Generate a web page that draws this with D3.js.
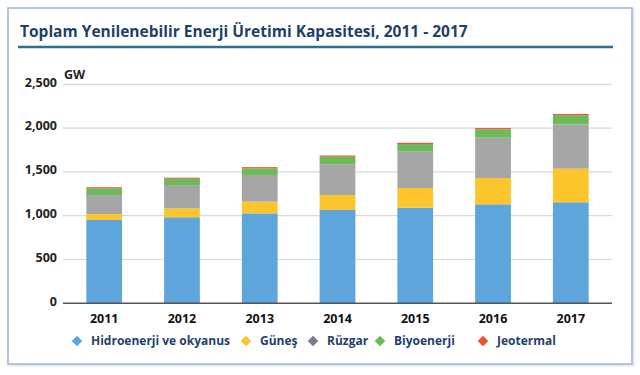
<!DOCTYPE html>
<html>
<head>
<meta charset="utf-8">
<script src="https://cdn.jsdelivr.net/npm/d3@7"></script>
<style>
  body { margin: 0; background: #fff; }
  svg { display: block; }
</style>
</head>
<body>
<div id="chart"></div>
<script>
// chart data (GW)
const years = ["2011", "2012", "2013", "2014", "2015", "2016", "2017"];
const hydro = [951, 982, 1027, 1065, 1091, 1130, 1153];
const solar = [68, 102, 133, 171, 225, 300, 384];
const wind = [217, 266, 305, 351, 415, 461, 506];
const bio = [77, 72, 76, 87, 87, 95, 103];
const geo = [12, 12, 13, 13, 14, 14, 15];
const seriesNames = ["Hidroenerji ve okyanus", "Güneş", "Rüzgar", "Biyoenerji", "Jeotermal"];
const yTicks = [0, 500, 1000, 1500, 2000, 2500];
const yTickLabels = ["0", "500", "1,000", "1,500", "2,000", "2,500"];

const barColors = ["#5da5da", "#fdc52c", "#a6a6a6", "#6cbb5a", "#e8542c"];
const legendColors = ["#5da5da", "#fdc52c", "#7b7b8c", "#6cbb5a", "#f0502a"];

const width = 640, height = 375;
const svg = d3.select("#chart").append("svg")
    .attr("width", width)
    .attr("height", height);

// frame with a faint shadow
svg.append("rect")
    .attr("x", 9.5).attr("y", 9.5)
    .attr("width", 624).attr("height", 356)
    .attr("fill", "none")
    .attr("stroke", "#e3e8f1")
    .attr("stroke-width", 2);
svg.append("rect")
    .attr("x", 8).attr("y", 8)
    .attr("width", 624).attr("height", 356)
    .attr("fill", "#fff")
    .attr("stroke", "#9fb1d4")
    .attr("stroke-width", 1.5);

// title
svg.append("text")
    .attr("x", 20).attr("y", 37)
    .attr("font-family", "'Open Sans', sans-serif")
    .attr("font-weight", "bold")
    .attr("font-size", 15.5)
    .attr("fill", "#1f3f6b")
    .text("Toplam Yenilenebilir Enerji Üretimi Kapasitesi, 2011 - 2017");

svg.append("line")
    .attr("x1", 18).attr("x2", 613)
    .attr("y1", 47).attr("y2", 47)
    .attr("stroke", "#2f6e8c")
    .attr("stroke-width", 2.5);

// scales
const x = d3.scaleBand().domain(years).range([63, 612])
    .paddingInner(0.54).paddingOuter(0.3);
const y = d3.scaleLinear().domain([0, 2500]).range([303.3, 84.3]);

const g = svg.append("g");

// grid
g.selectAll(".grid").data(yTicks.slice(1)).join("line")
    .attr("class", "grid")
    .attr("x1", 63).attr("x2", 612)
    .attr("y1", d => y(d)).attr("y2", d => y(d))
    .attr("stroke", "#d9d9d9")
    .attr("stroke-width", 1.2);

// y tick labels
g.selectAll(".ylab").data(yTicks).join("text")
    .attr("class", "ylab")
    .attr("x", 57)
    .attr("y", d => y(d) - 2)
    .attr("dy", "0.35em")
    .attr("text-anchor", "end")
    .attr("font-family", "'Open Sans', sans-serif")
    .attr("font-weight", "bold")
    .attr("font-size", 12.5)
    .attr("fill", "#222")
    .text((d, i) => yTickLabels[i]);

svg.append("text")
    .attr("x", 64).attr("y", 79)
    .attr("font-family", "'Open Sans', sans-serif")
    .attr("font-weight", "bold")
    .attr("font-size", 12.5)
    .attr("fill", "#222")
    .text("GW");

// stacked bars
const rows = years.map((yr, i) => ({
    year: yr, s0: hydro[i], s1: solar[i], s2: wind[i], s3: bio[i], s4: geo[i]
}));
const stack = d3.stack().keys(["s0", "s1", "s2", "s3", "s4"])(rows);

g.selectAll(".layer").data(stack).join("g")
    .attr("class", "layer")
    .attr("fill", (d, i) => barColors[i])
    .selectAll("rect").data(d => d).join("rect")
    .attr("x", d => x(d.data.year))
    .attr("width", x.bandwidth())
    .attr("y", d => y(d[1]))
    .attr("height", d => y(d[0]) - y(d[1]));

// x axis line
g.append("line")
    .attr("x1", 63).attr("x2", 612)
    .attr("y1", y(0)).attr("y2", y(0))
    .attr("stroke", "#555")
    .attr("stroke-width", 1.5);

// x labels
g.selectAll(".xlab").data(years).join("text")
    .attr("class", "xlab")
    .attr("x", d => x(d) + x.bandwidth() / 2)
    .attr("y", 323)
    .attr("text-anchor", "middle")
    .attr("font-family", "'Open Sans', sans-serif")
    .attr("font-weight", "bold")
    .attr("font-size", 12.5)
    .attr("fill", "#111")
    .text(d => d);

// legend
const legendX = [77, 246, 313, 380, 483];
const legend = svg.append("g");
const items = legend.selectAll("g").data(seriesNames).join("g")
    .attr("transform", (d, i) => "translate(" + legendX[i] + ",341)");

items.append("path")
    .attr("d", d3.symbol().type(d3.symbolSquare).size(56))
    .attr("transform", "rotate(45)")
    .attr("fill", (d, i) => legendColors[i]);

items.append("text")
    .attr("x", 14)
    .attr("dy", "0.35em")
    .attr("font-family", "'Open Sans', sans-serif")
    .attr("font-weight", "bold")
    .attr("font-size", 12)
    .attr("fill", "#1f3f6b")
    .text(d => d);
</script>
</body>
</html>
